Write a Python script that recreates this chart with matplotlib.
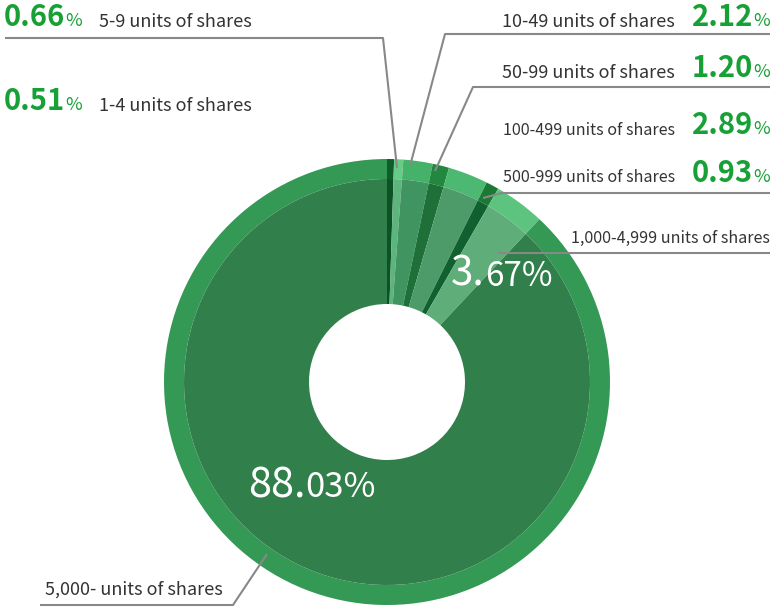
import matplotlib
matplotlib.use("Agg")
import matplotlib.pyplot as plt

plt.rcParams['font.family'] = ['Noto Sans CJK JP', 'DejaVu Sans']

# ---- data ----
categories = ["1-4 units of shares", "5-9 units of shares", "10-49 units of shares",
              "50-99 units of shares", "100-499 units of shares", "500-999 units of shares",
              "1,000-4,999 units of shares", "5,000- units of shares"]
values = [0.51, 0.66, 2.12, 1.20, 2.89, 0.93, 3.67, 88.03]
outer_colors = ["#0d5e2a", "#66cc88", "#45b26a", "#23883f", "#4db872", "#1a7a35", "#5cc47f", "#339955"]
inner_colors = ["#0b5224", "#5db47d", "#3f9460", "#1e7038", "#4d9b68", "#116030", "#5fae7a", "#317f4b"]

W, H = 773, 608
fig = plt.figure(figsize=(W / 100, H / 100), dpi=100)
ax = fig.add_axes([0, 0, 1, 1])

def Y(y):
    return H - y

cx, cy = 387, Y(382)
R_out, R_in, R_hole = 223, 203, 78

ax.pie(values, radius=R_out, center=(cx, cy), startangle=90, counterclock=False,
       colors=outer_colors, wedgeprops=dict(width=R_out - R_in, linewidth=0))
ax.pie(values, radius=R_in, center=(cx, cy), startangle=90, counterclock=False,
       colors=inner_colors, wedgeprops=dict(width=R_in - R_hole, linewidth=0))
ax.set_xlim(0, W)
ax.set_ylim(0, H)
ax.set_aspect('equal')
ax.axis('off')

GREEN = "#17a035"
TXT = "#333333"
LINE = "#888888"

fig.canvas.draw()
renderer = fig.canvas.get_renderer()

def inv(px):
    return ax.transData.inverted().transform(px)

def composite(x, y, parts, ha='left', gap=0):
    """parts: list of (string, size, color, weight). Draw on a common baseline."""
    texts = []
    cur = x
    for i, (s, size, color, weight) in enumerate(parts):
        t = ax.text(cur, Y(y), s, fontsize=size, color=color, fontweight=weight,
                    ha='left', va='baseline')
        bb = t.get_window_extent(renderer)
        x1 = inv((bb.x1, bb.y0))[0]
        x0 = inv((bb.x0, bb.y0))[0]
        cur = cur + (x1 - x0) + gap
        texts.append(t)
    cur -= gap
    if ha == 'right':
        shift = cur - x
        for t in texts:
            px, py = t.get_position()
            t.set_position((px - shift, py))
    return texts

def label(x, y, s, size=13, ha='left'):
    ax.text(x, Y(y), s, fontsize=size, color=TXT, ha=ha, va='baseline')

def leader(pts):
    xs = [p[0] for p in pts]
    ys = [Y(p[1]) for p in pts]
    ax.plot(xs, ys, color=LINE, lw=1.5, solid_capstyle='butt')

def pct(v):
    return f"{v:.2f}"

def green(x, y, v, ha='left'):
    composite(x, y, [(pct(v), 21, GREEN, 'bold'), ("%", 13, GREEN, 'normal')], ha=ha, gap=0)

# left labels
green(4, 26, values[1])
label(99, 27, categories[1])
leader([(5, 38), (383, 38), (397, 168)])

green(4, 110, values[0])
label(99, 111, categories[0])

# right labels
green(770, 26, values[2], ha='right')
label(675, 27, categories[2], ha='right')
leader([(770, 34), (445, 34), (410, 166)])

green(770, 77, values[3], ha='right')
label(675, 78, categories[3], ha='right')
leader([(770, 87), (473, 87), (435, 171)])

green(770, 134, values[4], ha='right')
label(675, 135, categories[4], size=11.6, ha='right')

green(770, 182, values[5], ha='right')
label(675, 182, categories[5], size=11.6, ha='right')
leader([(770, 193), (502, 193), (483, 198)])

label(770, 243, categories[6], size=11.6, ha='right')
leader([(770, 253), (498, 253)])

label(45, 595, categories[7])
leader([(40, 605), (233, 605), (267, 554)])

# inner big labels
a, b = pct(values[6]).split(".")
composite(451, 286, [(a + ".", 29, "white", 'normal'), (b + "%", 24, "white", 'normal')], gap=0)
a, b = pct(values[7]).split(".")
composite(248, 497, [(a + ".", 30, "white", 'normal'), (b + "%", 25, "white", 'normal')], gap=0)

fig.savefig("out.png", dpi=100)
